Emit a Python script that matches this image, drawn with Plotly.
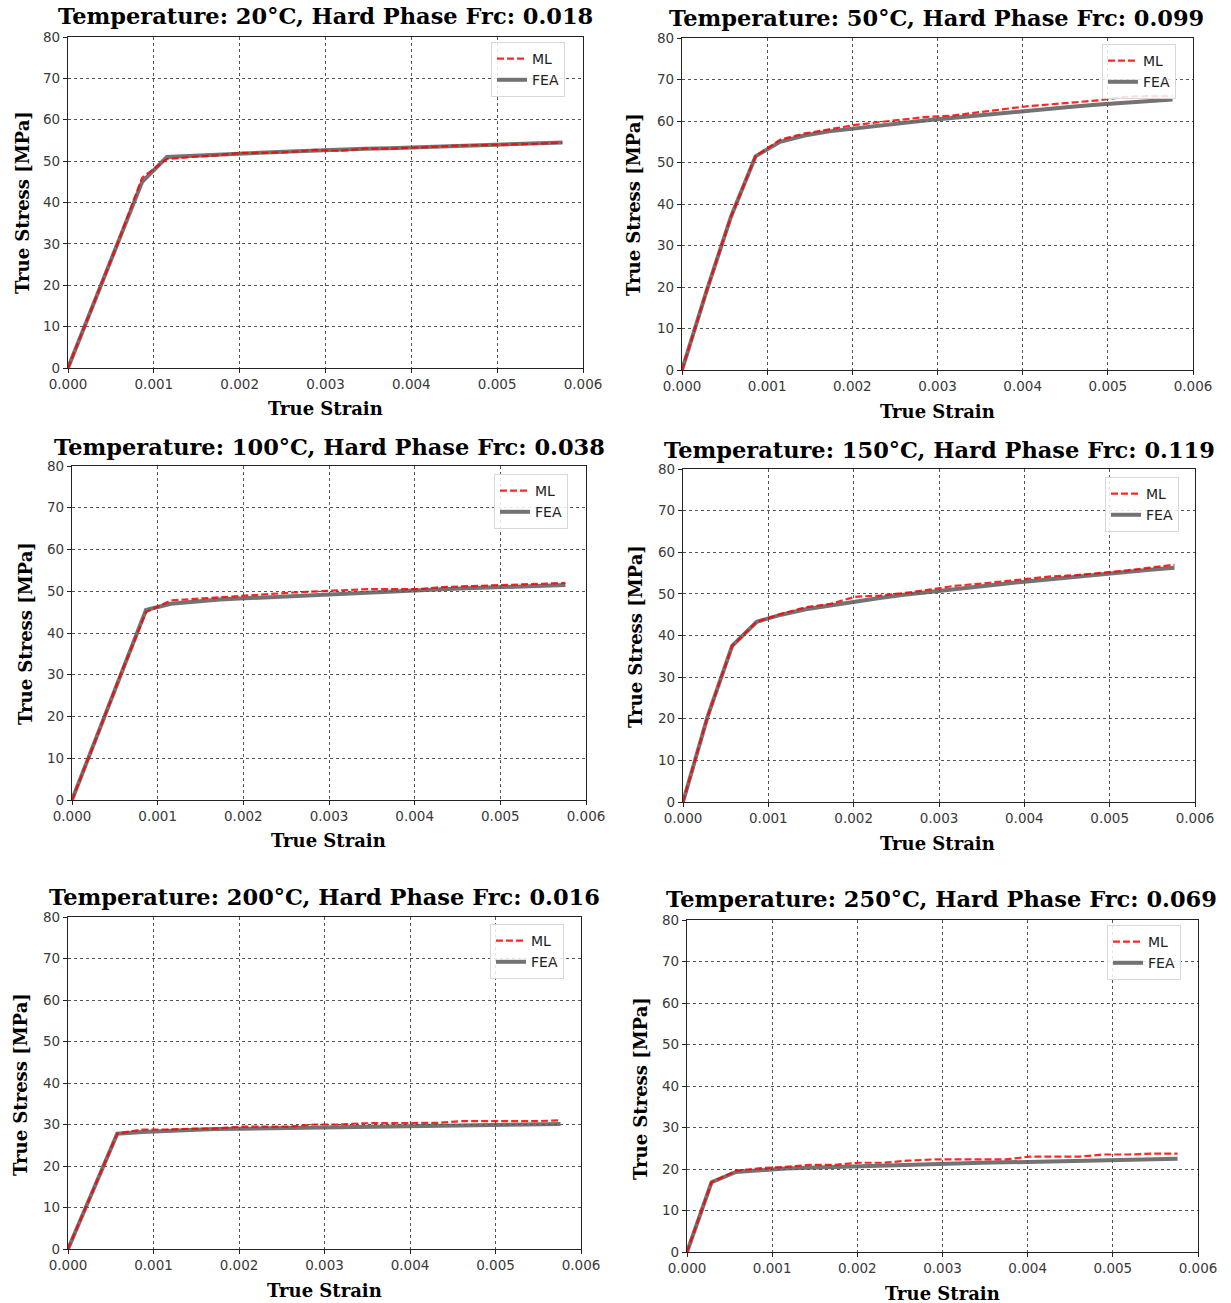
import plotly.graph_objects as go

W, H = 1231, 1303

strain = [0, 0.000288, 0.000576, 0.000864, 0.001152, 0.00144, 0.001728, 0.002016,
          0.002304, 0.002592, 0.00288, 0.003168, 0.003456, 0.003744, 0.004032,
          0.00432, 0.004608, 0.004896, 0.005184, 0.005472, 0.00576]

temps = [20, 50, 100, 150, 200, 250]
hard_frac = ["0.018", "0.099", "0.038", "0.119", "0.016", "0.069"]

fea_20 = [0, 15, 30, 45, 51, 51.3, 51.6, 52, 52.1, 52.3, 52.6, 52.8, 53, 53.1, 53.3, 53.5, 53.7, 53.9, 54.1, 54.3, 54.5]
ml_20 = [0, 15, 30, 46, 50.5, 51, 51.4, 52, 52, 52.2, 52.7, 52.5, 53, 53, 53.3, 53.5, 53.8, 53.9, 54, 54.2, 54.5]

fea_50 = [0, 19, 37, 51.5, 55, 56.5, 57.5, 58.2, 58.9, 59.6, 60.2, 60.7, 61.3, 61.9, 62.5, 63, 63.5, 64, 64.4, 64.8, 65.2]
ml_50 = [0, 19, 37, 51.5, 55.5, 57, 58, 59, 59.7, 60.3, 61, 61.3, 62, 62.7, 63.5, 64, 64.5, 65, 65.8, 66, 66]

fea_100 = [0, 15, 30.5, 45.5, 47, 47.6, 48, 48.3, 48.6, 48.9, 49.2, 49.5, 49.8, 50, 50.3, 50.5, 50.7, 50.9, 51.1, 51.3, 51.5]
ml_100 = [0, 15, 30.5, 45, 47.8, 48.2, 48.6, 49, 49.4, 49.7, 50, 50.3, 50.5, 50.5, 50.5, 51, 51.2, 51.3, 51.5, 51.8, 52]

fea_150 = [0, 20.5, 37.5, 43.3, 45, 46.3, 47.2, 48.2, 49, 49.8, 50.5, 51.2, 51.8, 52.4, 53, 53.6, 54.2, 54.8, 55.3, 55.8, 56.3]
ml_150 = [0, 20.5, 37.5, 43.3, 45.2, 46.8, 47.6, 49.3, 49.6, 50.2, 51, 51.9, 52.4, 53, 53.5, 54.2, 54.5, 55, 55.6, 56.3, 57]

fea_200 = [0, 14, 27.8, 28.2, 28.5, 28.7, 28.9, 29, 29.1, 29.2, 29.3, 29.4, 29.5, 29.6, 29.7, 29.8, 29.8, 29.9, 30, 30, 30.1]
ml_200 = [0, 14, 27.8, 28.8, 28.8, 29, 29, 29.5, 29.5, 29.5, 30, 30, 30.3, 30.3, 30.3, 30.4, 30.8, 30.8, 30.8, 30.8, 31]

fea_250 = [0, 16.8, 19.3, 19.8, 20.1, 20.3, 20.5, 20.7, 20.9, 21.0, 21.2, 21.3, 21.5, 21.6, 21.7, 21.9, 22, 22.1, 22.2, 22.3, 22.5]
ml_250 = [0, 16.8, 19.6, 20.2, 20.5, 21, 21, 21.5, 21.5, 22, 22.3, 22.3, 22.3, 22.3, 23, 23, 23, 23.5, 23.5, 23.7, 23.7]

fea_all = [fea_20, fea_50, fea_100, fea_150, fea_200, fea_250]
ml_all = [ml_20, ml_50, ml_100, ml_150, ml_200, ml_250]

x_ticks = [0, 0.001, 0.002, 0.003, 0.004, 0.005, 0.006]
x_ticklabels = ["0.000", "0.001", "0.002", "0.003", "0.004", "0.005", "0.006"]
y_ticks = [0, 10, 20, 30, 40, 50, 60, 70, 80]

# layout (pixels): plot area [x0, x1, ytop, ybottom]
boxes = [(68, 583, 37, 368), (682, 1193, 38, 370),
         (72, 586, 466, 800), (683, 1195, 469, 802),
         (68, 581, 917, 1249), (687, 1198, 920, 1252)]
title_pos = [(325, 16), (936, 18), (329, 447), (939, 450), (324, 897), (941, 899)]
xlab_pos = [(325, 409), (937, 411), (328, 840), (938, 843), (324, 1290), (942, 1293)]
ylab_pos = [(22, 203), (634, 205), (25, 634), (635, 637), (20, 1085), (640, 1088)]
legend_pos = [(491, 42), (1102, 44), (494, 474), (1105, 477), (490, 924), (1107, 925)]

def px(x):
    return x / W

def py(y):
    return 1 - y / H

fig = go.Figure()
layout = dict(width=W, height=H, margin=dict(l=0, r=0, t=0, b=0, autoexpand=False),
              template="none",
              paper_bgcolor="white", plot_bgcolor="white", showlegend=True)
annotations = []

for i in range(6):
    n = i + 1
    xa = "x" if n == 1 else f"x{n}"
    ya = "y" if n == 1 else f"y{n}"
    lg = "legend" if n == 1 else f"legend{n}"
    fig.add_trace(go.Scatter(x=strain, y=fea_all[i], mode="lines", name="FEA",
                             line=dict(color="rgba(90,90,90,0.85)", width=4),
                             xaxis=xa, yaxis=ya, legend=lg, legendrank=2))
    fig.add_trace(go.Scatter(x=strain, y=ml_all[i], mode="lines", name="ML",
                             line=dict(color="rgba(255,0,0,0.85)", width=2.2, dash="7px,3px"),
                             xaxis=xa, yaxis=ya, legend=lg, legendrank=1))
    x0, x1, yt, yb = boxes[i]
    axcommon = dict(showline=True, linecolor="#222", linewidth=1.3, mirror=True,
                    ticks="outside", ticklen=4, tickcolor="#222",
                    showgrid=True, gridcolor="#555", griddash="dot", gridwidth=1,
                    zeroline=False, automargin=False,
                    tickfont=dict(family="DejaVu Sans", size=13.5, color="#3a3a3a"))
    layout["xaxis" if n == 1 else f"xaxis{n}"] = dict(
        domain=[px(x0), px(x1)], anchor=ya, range=[0, 0.006],
        tickvals=x_ticks, ticktext=x_ticklabels, **axcommon)
    layout["yaxis" if n == 1 else f"yaxis{n}"] = dict(
        domain=[py(yb), py(yt)], anchor=xa, range=[0, 80],
        tickvals=y_ticks, **axcommon)
    lx, ly = legend_pos[i]
    layout[lg] = dict(x=px(lx), y=py(ly), xanchor="left", yanchor="top",
                      bgcolor="rgba(255,255,255,0.85)", bordercolor="#d8d8d8", borderwidth=1,
                      font=dict(family="DejaVu Sans", size=14, color="#222"),
                      tracegroupgap=0)
    tx, ty = title_pos[i]
    annotations.append(dict(x=px(tx), y=py(ty), xref="paper", yref="paper",
                            text=f"<b>Temperature: {temps[i]}°C, Hard Phase Frc: {hard_frac[i]}</b>",
                            showarrow=False, xanchor="center", yanchor="middle",
                            font=dict(family="DejaVu Serif", size=22.5, color="black")))
    bx, by = xlab_pos[i]
    annotations.append(dict(x=px(bx), y=py(by), xref="paper", yref="paper",
                            text="<b>True Strain</b>", showarrow=False,
                            xanchor="center", yanchor="middle",
                            font=dict(family="DejaVu Serif", size=18, color="black")))
    lx2, ly2 = ylab_pos[i]
    annotations.append(dict(x=px(lx2), y=py(ly2), xref="paper", yref="paper",
                            text="<b>True Stress [MPa]</b>", showarrow=False, textangle=-90,
                            xanchor="center", yanchor="middle",
                            font=dict(family="DejaVu Serif", size=18, color="black")))

layout["annotations"] = annotations
fig.update_layout(**layout)
fig.write_html("out.html")
